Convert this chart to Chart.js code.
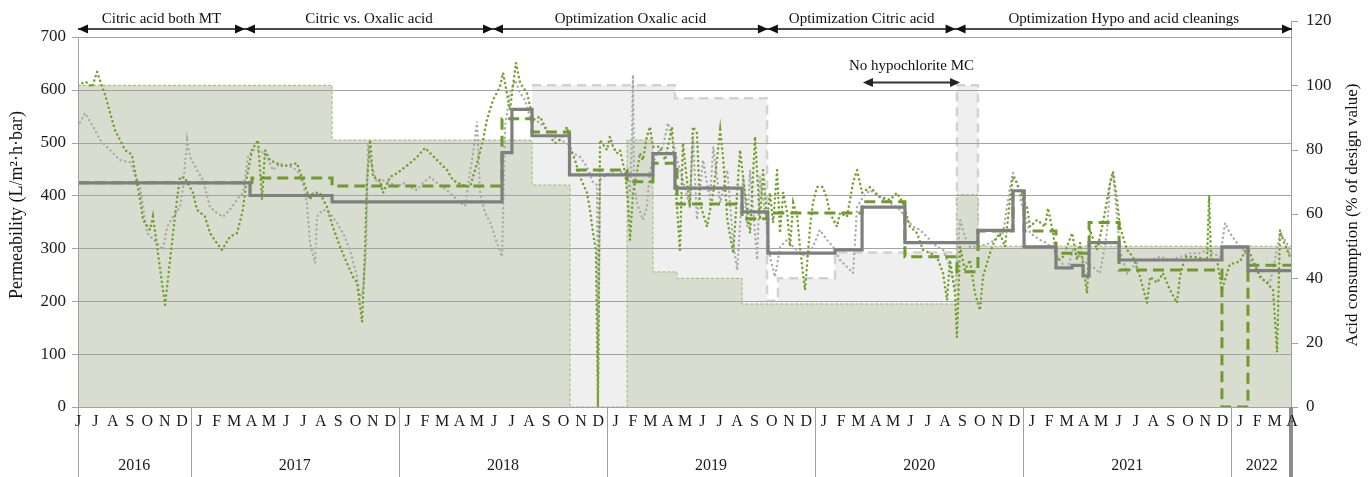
<!DOCTYPE html>
<html>
<head>
<meta charset="utf-8">
<script src="https://cdn.jsdelivr.net/npm/chart.js@4.4.1/dist/chart.umd.min.js"></script>
<style>
  html, body { margin: 0; padding: 0; background: #fff; }
  #wrap { width: 1370px; height: 477px; position: relative; }
</style>
</head>
<body>
<div id="wrap"><canvas id="grafico"></canvas></div>
<script>
// time axis = months counted from 1 Jan 2016 (6.0 = 1 July 2016)
const xStart = 5.5;   // mid June 2016
const xEnd = 75.5;    // mid April 2022
const monthLetters = [
  'J', 'J', 'A', 'S', 'O', 'N', 'D',
  'J', 'F', 'M', 'A', 'M', 'J', 'J', 'A', 'S', 'O', 'N', 'D',
  'J', 'F', 'M', 'A', 'M', 'J', 'J', 'A', 'S', 'O', 'N', 'D',
  'J', 'F', 'M', 'A', 'M', 'J', 'J', 'A', 'S', 'O', 'N', 'D',
  'J', 'F', 'M', 'A', 'M', 'J', 'J', 'A', 'S', 'O', 'N', 'D',
  'J', 'F', 'M', 'A', 'M', 'J', 'J', 'A', 'S', 'O', 'N', 'D',
  'J', 'F', 'M', 'A'
];
const years = ['2016', '2017', '2018', '2019', '2020', '2021', '2022'];
const yearStart = [0, 12, 24, 36, 48, 60, 72];
const permTicks = [0, 100, 200, 300, 400, 500, 600, 700];
const acidTicks = [0, 20, 40, 60, 80, 100, 120];

const phases = [
  { name: 'Citric acid both MT', from: 5.5, to: 15.13 },
  { name: 'Citric vs. Oxalic acid', from: 15.13, to: 29.43 },
  { name: 'Optimization Oxalic acid', from: 29.43, to: 45.28 },
  { name: 'Optimization Citric acid', from: 45.28, to: 56.1 },
  { name: 'Optimization Hypo and acid cleanings', from: 56.1, to: 75.5 }
];
const noHypo = { name: 'No hypochlorite MC', from: 50.76, to: 56.36 };

// daily permeability, train 1 (green dots) [month, L/m2.h.bar]
const permGreen = [
  [5.50,609],[5.96,615],[6.31,605],[6.60,634],[7.06,590],[7.63,524],[8.21,486],[8.61,477],[8.90,424],[9.08,392],
  [9.25,354],[9.65,335],[9.82,360],[10.06,303],[10.40,221],[10.52,193],[10.81,278],[10.98,329],[11.21,392],[11.38,435],
  [11.67,433],[12.13,405],[12.36,373],[12.82,360],[13.11,329],[13.51,310],[13.80,297],[14.26,322],[14.67,329],[15.01,373],
  [15.24,435],[15.53,486],[15.88,505],[16.11,392],[16.28,486],[16.57,467],[16.97,461],[17.32,455],[18.13,461],[18.47,429],
  [18.88,392],[19.05,405],[19.45,405],[19.86,378],[20.20,340],[20.61,303],[21.01,272],[21.36,246],[21.59,235],[21.88,161],
  [22.05,297],[22.16,424],[22.34,505],[22.51,435],[22.91,429],[23.09,405],[23.49,435],[23.89,442],[24.64,461],[25.05,473],
  [25.51,490],[26.20,467],[26.78,448],[27.12,429],[27.64,420],[28.10,416],[28.56,467],[28.85,505],[29.08,543],[29.43,581],
  [29.83,605],[30.01,632],[30.41,562],[30.75,651],[30.99,613],[31.39,594],[31.74,543],[32.14,549],[32.43,530],[32.72,511],
  [33.00,499],[33.29,505],[33.70,530],[33.87,492],[34.16,467],[34.45,435],[34.85,405],[35.02,373],[35.20,329],[35.37,293],
  [35.48,0],[35.60,505],[36.00,486],[36.17,511],[36.35,492],[36.58,480],[36.75,486],[37.04,443],[37.21,392],[37.33,316],
  [37.50,405],[37.73,443],[37.90,480],[38.07,467],[38.30,511],[38.48,530],[38.65,492],[39.06,492],[39.35,467],[39.75,530],
  [40.04,378],[40.21,297],[40.38,499],[40.78,378],[40.96,530],[41.19,518],[41.36,386],[41.77,341],[42.13,405],[42.53,524],
  [42.71,467],[42.94,354],[43.28,291],[43.67,486],[43.96,405],[44.25,329],[44.54,511],[44.82,354],[45.00,448],[45.23,354],
  [45.40,405],[45.58,348],[45.81,448],[45.98,329],[46.16,405],[46.39,367],[46.56,303],[46.74,386],[46.97,360],[47.13,303],
  [47.30,253],[47.42,221],[47.71,341],[47.88,386],[48.11,416],[48.46,416],[48.69,392],[48.86,367],[49.26,341],[49.44,367],
  [49.84,360],[50.19,424],[50.42,448],[50.71,405],[51.17,416],[51.74,397],[52.32,392],[52.72,405],[53.07,386],[53.30,360],
  [53.47,341],[53.88,329],[54.22,297],[54.63,291],[55.03,284],[55.38,253],[55.61,202],[55.78,278],[56.07,215],[56.18,132],
  [56.36,303],[56.64,259],[56.93,278],[57.22,215],[57.51,183],[57.68,246],[58.09,291],[58.37,316],[58.66,329],[58.95,303],
  [59.24,392],[59.41,435],[59.64,424],[59.99,392],[60.22,378],[60.40,341],[60.80,354],[61.26,341],[61.43,376],[61.72,329],
  [61.95,278],[62.30,284],[62.53,303],[62.82,329],[63.10,278],[63.28,310],[63.68,215],[63.85,335],[64.26,297],[64.60,348],
  [65.01,424],[65.18,445],[65.41,392],[65.58,341],[65.99,297],[66.33,284],[66.74,246],[67.14,197],[67.32,246],[67.72,235],
  [68.06,253],[68.47,221],[68.87,197],[69.04,246],[69.33,284],[69.79,284],[70.19,282],[70.60,278],[70.72,400],[70.83,280],
  [71.18,278],[71.46,221],[71.92,270],[72.50,275],[72.91,303],[73.66,246],[74.06,235],[74.41,221],[74.64,104],[74.81,335],
  [74.98,316],[75.38,284]
];

// daily permeability, train 2 (grey dots)
const permGrey = [
  [5.50,530],[5.90,556],[6.48,524],[6.77,505],[7.35,486],[7.92,467],[8.50,463],[9.08,416],[9.48,329],[10.06,310],
  [10.40,297],[10.63,340],[10.98,360],[11.38,378],[11.56,416],[11.79,505],[11.96,473],[12.36,448],[12.71,429],[13.11,378],
  [13.51,367],[13.86,360],[14.26,373],[14.67,392],[15.01,405],[15.30,473],[15.59,486],[15.99,486],[16.40,473],[16.74,448],
  [17.15,461],[17.72,455],[18.13,448],[18.47,424],[18.70,386],[18.88,310],[19.17,272],[19.28,360],[19.63,373],[20.03,367],
  [20.43,348],[20.78,329],[21.18,297],[21.59,246],[21.76,208],[21.94,221],[22.11,297],[22.22,496],[22.34,467],[22.74,424],
  [23.09,429],[23.49,424],[23.89,416],[24.24,424],[24.64,416],[25.05,410],[25.39,424],[25.80,435],[26.20,424],[26.55,416],
  [26.95,405],[27.35,392],[27.81,380],[28.28,480],[28.51,540],[28.68,405],[28.97,367],[29.26,350],[29.66,310],[29.95,284],
  [30.12,530],[30.41,594],[30.70,618],[30.99,594],[31.27,581],[31.56,549],[31.85,543],[32.14,537],[32.54,524],[32.88,511],
  [33.29,505],[33.70,499],[34.03,480],[34.45,473],[34.85,454],[35.20,424],[35.43,420],[35.48,0],[35.60,430],[35.77,435],
  [36.17,443],[36.58,448],[36.92,443],[37.16,443],[37.33,405],[37.44,500],[37.50,628],[37.56,420],[37.73,386],[38.07,354],
  [38.30,378],[38.48,448],[38.88,480],[39.23,492],[39.52,537],[39.75,511],[40.04,467],[40.38,429],[40.78,378],[40.96,511],
  [41.19,354],[41.54,467],[41.94,392],[42.13,492],[42.53,386],[42.94,448],[43.28,310],[43.51,259],[43.85,435],[44.09,341],
  [44.25,448],[44.66,278],[44.82,435],[45.23,341],[45.40,284],[45.69,246],[45.98,303],[46.39,316],[46.74,303],[47.13,291],
  [47.53,284],[47.88,303],[48.28,335],[48.69,316],[49.04,303],[49.44,278],[49.84,265],[50.19,253],[50.42,378],[50.76,397],
  [51.17,410],[51.74,397],[52.32,386],[52.90,373],[53.30,354],[53.65,341],[54.05,335],[54.63,316],[55.03,303],[55.38,297],
  [55.78,265],[56.07,221],[56.36,354],[56.64,322],[56.93,303],[57.34,303],[57.68,306],[58.09,310],[58.49,319],[58.84,329],
  [59.24,416],[59.41,443],[59.64,424],[59.99,373],[60.40,329],[60.97,316],[61.37,310],[61.72,297],[62.12,278],[62.53,259],
  [62.87,297],[63.28,284],[63.68,272],[64.03,265],[64.43,253],[64.83,329],[65.01,424],[65.18,443],[65.41,360],[65.58,297],
  [65.99,253],[66.33,265],[66.74,278],[67.32,278],[67.89,284],[68.47,278],[69.04,284],[69.62,291],[70.19,291],[70.60,297],
  [70.95,291],[71.35,284],[71.64,348],[71.92,329],[72.33,310],[72.68,297],[73.08,278],[73.48,259],[73.83,240],[74.23,235],
  [74.64,297],[74.81,329],[75.21,310],[75.38,284]
];

// period averages (step lines) [start month, permeability]
const avgGrey = [
  [5.5,424],[15.42,400],[20.15,388],[29.95,481],[30.52,563],[31.68,513],[33.84,439],[38.65,479],[39.92,414],[43.79,369],
  [45.28,291],[49.15,297],[50.71,378],[53.18,311],[57.39,334],[59.41,409],[60.05,303],[61.89,263],[62.82,268],[63.45,248],
  [63.80,311],[65.53,278],[71.46,303],[72.96,258],[75.5,258]
];
const avgGreen = [
  [5.5,424],[15.53,433],[20.15,418],[29.95,545],[31.68,520],[33.84,448],[37.16,426],[38.65,461],[40.04,384],[43.79,356],
  [45.23,367],[50.71,388],[53.18,284],[56.18,256],[57.39,333],[59.41,407],[60.05,333],[61.89,291],[63.80,349],[65.53,259],
  [71.46,0],[72.96,268],[75.5,268]
];

// acid consumption, % of design value [start month, %]
const acidGreen = [
  [5.5,100],[20.15,83],[31.68,69],[33.87,0],[37.16,83],[38.65,42],[40.04,40],[43.79,32],[56.18,66],[57.39,50],[75.5,50]
];
const acidGrey = [
  [31.68,100],[39.92,96],[45.23,33],[45.86,40],[49.15,48],[56.18,100],[57.39,0]
];

const pts = arr => arr.map(([x, y]) => ({ x, y }));
const serif = '"Liberation Serif", "Times New Roman", serif';
Chart.defaults.font.family = serif;

function line(ctx, x1, y1, x2, y2) {
  ctx.beginPath(); ctx.moveTo(x1, y1); ctx.lineTo(x2, y2); ctx.stroke();
}
function head(ctx, x, y, dir, len, half) {
  ctx.beginPath();
  ctx.moveTo(x, y);
  ctx.lineTo(x - dir * len, y - half);
  ctx.lineTo(x - dir * len, y + half);
  ctx.closePath();
  ctx.fill();
}
function fixAxis(s) {
  s.width = 78;
  s.paddingTop = 0;
  s.paddingBottom = 0;
}

// gridlines sit above the acid areas but below the permeability data
const gridOverAreas = {
  id: 'gridOverAreas',
  afterDatasetDraw(chart, args) {
    if (chart.data.datasets[args.index].label !== 'Acid MT1') return;
    const { ctx, chartArea: a, scales: { y } } = chart;
    ctx.save();
    ctx.strokeStyle = '#a3a3a3';
    ctx.lineWidth = 1;
    permTicks.forEach(v => {
      const py = Math.round(y.getPixelForValue(v)) + 0.5;
      line(ctx, a.left - 6, py, a.right, py);
    });
    ctx.restore();
  }
};

const decorations = {
  id: 'decorations',
  afterDraw(chart) {
    const { ctx, chartArea: a, scales: { x, y, y1 } } = chart;
    const H = chart.height;
    const top700 = Math.round(y.getPixelForValue(700)) + 0.5;
    ctx.save();

    // axis lines
    ctx.strokeStyle = '#a0a0a0';
    ctx.lineWidth = 1;
    line(ctx, a.left + 0.5, top700, a.left + 0.5, H);
    line(ctx, a.right - 0.5, y1.getPixelForValue(120), a.right - 0.5, a.bottom);
    acidTicks.forEach(v => {
      const py = Math.round(y1.getPixelForValue(v)) + 0.5;
      line(ctx, a.right, py, a.right + 6, py);
    });

    // year separators below the axis
    yearStart.forEach(v => {
      if (v <= xStart) return;
      const px = Math.round(x.getPixelForValue(v)) + 0.5;
      line(ctx, px, a.bottom, px, H);
    });
    ctx.strokeStyle = '#8c8c8c';
    ctx.lineWidth = 4;
    line(ctx, a.right - 1, a.bottom, a.right - 1, H);

    // month letters and years
    ctx.fillStyle = '#1a1a1a';
    ctx.textAlign = 'center';
    ctx.textBaseline = 'middle';
    ctx.font = '16px ' + serif;
    monthLetters.forEach((m, i) => {
      ctx.fillText(m, x.getPixelForValue(xStart + i), a.bottom + 15);
    });
    years.forEach((yr, i) => {
      const from = Math.max(yearStart[i], xStart);
      const to = Math.min(yearStart[i] + 12, xEnd);
      const cx = (x.getPixelForValue(from) + x.getPixelForValue(to)) / 2;
      ctx.fillText(yr, cx, a.bottom + 59);
    });

    // experimental phases on top
    const ay = a.top + 8;
    ctx.strokeStyle = '#111';
    ctx.fillStyle = '#111';
    ctx.lineWidth = 1.3;
    line(ctx, x.getPixelForValue(xStart), ay, x.getPixelForValue(xEnd), ay);
    ctx.font = '15px ' + serif;
    phases.forEach(p => {
      const x1 = x.getPixelForValue(p.from), x2 = x.getPixelForValue(p.to);
      head(ctx, x1, ay, -1, 10, 4.5);
      head(ctx, x2, ay, 1, 10, 4.5);
      ctx.fillText(p.name, (x1 + x2) / 2, a.top - 2);
    });

    // no hypochlorite period
    const hy = Math.round(y.getPixelForValue(615)) + 0.5;
    const h1 = x.getPixelForValue(noHypo.from), h2 = x.getPixelForValue(noHypo.to);
    ctx.strokeStyle = '#333';
    ctx.fillStyle = '#222';
    ctx.lineWidth = 2;
    line(ctx, h1 + 4, hy, h2 - 4, hy);
    head(ctx, h1, hy, -1, 10, 4.5);
    head(ctx, h2, hy, 1, 10, 4.5);
    ctx.fillStyle = '#111';
    ctx.fillText(noHypo.name, (h1 + h2) / 2, hy - 16);

    // axis titles
    ctx.save();
    ctx.font = '18px ' + serif;
    ctx.translate(17, 205);
    ctx.rotate(-Math.PI / 2);
    ctx.fillText('Permeability (L/m\u00B2\u00B7h\u00B7bar)', 0, 0);
    ctx.restore();
    ctx.save();
    ctx.font = '17px ' + serif;
    ctx.translate(chart.width - 17, 215);
    ctx.rotate(-Math.PI / 2);
    ctx.fillText('Acid consumption (% of design value)', 0, 0);
    ctx.restore();

    ctx.restore();
  }
};

new Chart(document.getElementById('grafico'), {
  type: 'line',
  data: {
    datasets: [
      {
        label: 'Acid MT2',
        data: pts(acidGrey),
        yAxisID: 'y1',
        stepped: true,
        fill: 'origin',
        backgroundColor: '#efefef',
        borderColor: '#d2d2d2',
        borderWidth: 2.5,
        borderDash: [9, 6],
        pointRadius: 0,
        order: 6
      },
      {
        label: 'Acid MT1',
        data: pts(acidGreen),
        yAxisID: 'y1',
        stepped: true,
        fill: 'origin',
        backgroundColor: '#d9ddd0',
        borderColor: '#9cbc62',
        borderWidth: 1,
        borderDash: [3, 2],
        pointRadius: 0,
        order: 5
      },
      {
        label: 'Permeability MT2',
        data: pts(permGrey),
        yAxisID: 'y',
        borderColor: '#aaaaaa',
        borderWidth: 2.4,
        borderDash: [0.1, 4.6],
        borderCapStyle: 'round',
        pointRadius: 0,
        fill: false,
        order: 4
      },
      {
        label: 'Permeability MT1',
        data: pts(permGreen),
        yAxisID: 'y',
        borderColor: '#72a12c',
        borderWidth: 2.5,
        borderDash: [0.1, 4.6],
        borderCapStyle: 'round',
        pointRadius: 0,
        fill: false,
        order: 3
      },
      {
        label: 'Average MT1',
        data: pts(avgGreen),
        yAxisID: 'y',
        stepped: true,
        borderColor: '#6f9a2e',
        borderWidth: 3,
        borderDash: [11, 6],
        pointRadius: 0,
        fill: false,
        order: 2
      },
      {
        label: 'Average MT2',
        data: pts(avgGrey),
        yAxisID: 'y',
        stepped: true,
        borderColor: '#7f7f7f',
        borderWidth: 3.2,
        pointRadius: 0,
        fill: false,
        order: 1
      }
    ]
  },
  options: {
    responsive: true,
    maintainAspectRatio: false,
    animation: false,
    layout: { padding: { top: 21, bottom: 70, left: 0, right: 0 } },
    plugins: { legend: { display: false }, tooltip: { enabled: false } },
    scales: {
      x: { type: 'linear', min: xStart, max: xEnd, display: false },
      y: {
        position: 'left',
        min: 0,
        max: 730,
        afterFit: fixAxis,
        afterBuildTicks: s => { s.ticks = permTicks.map(v => ({ value: v })); },
        ticks: { padding: 12, color: '#1a1a1a', font: { size: 17 } },
        grid: { display: false, drawTicks: false },
        border: { display: false }
      },
      y1: {
        position: 'right',
        min: 0,
        max: 120,
        afterFit: fixAxis,
        afterBuildTicks: s => { s.ticks = acidTicks.map(v => ({ value: v })); },
        ticks: { padding: 14, color: '#1a1a1a', font: { size: 17 } },
        grid: { display: false, drawTicks: false },
        border: { display: false }
      }
    }
  },
  plugins: [gridOverAreas, decorations]
});
</script>
</body>
</html>
